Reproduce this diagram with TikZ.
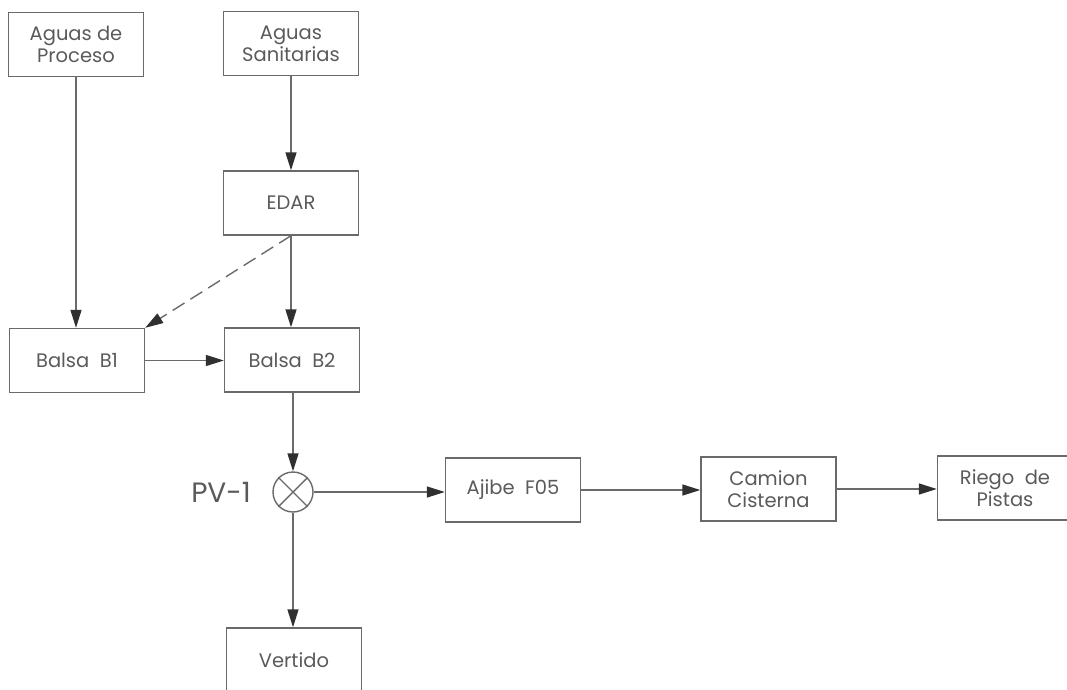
\documentclass[tikz,border=0pt]{standalone}
\usepackage{fontspec}
\setmainfont{Poppins}
\usetikzlibrary{arrows.meta}
\definecolor{linegray}{HTML}{6A6A6A}
\definecolor{textgray}{HTML}{5A5A5A}
\definecolor{tipgray}{HTML}{303030}
\tikzset{
  box/.style={draw=linegray, line width=1.4pt, minimum width=135pt, minimum height=64pt,
    inner sep=0pt, align=center, text=textgray, font=\fontsize{19.5}{22}\selectfont},
  flow/.style={draw=linegray, line width=1.4pt, -{Triangle[length=18pt,width=11pt,color=tipgray]}},
  dflow/.style={flow, dash pattern=on 14pt off 7pt},
  valve/.style={draw=linegray, line width=1.4pt, circle, minimum size=40pt, inner sep=0pt},
  tag/.style={text=textgray, font=\fontsize{28}{30}\selectfont, inner sep=0pt}
}
\begin{document}
\begin{tikzpicture}[x=1pt, y=-1pt]
\useasboundingbox (0,0) rectangle (1067,689);
\node[box] (ap) at (76,44.5) {Aguas de\\Proceso};
\node[box] (as) at (291,43.5) {Aguas\\Sanitarias};
\node[box] (edar) at (291,203) {EDAR};
\node[box] (b1) at (77,360.5) {Balsa\ \ B1};
\node[box] (b2) at (292,360) {Balsa\ \ B2};
\node[valve] (pv) at (293,492) {};
\draw[linegray, line width=1.4pt] (pv.north west) -- (pv.south east) (pv.north east) -- (pv.south west);
\node[tag, anchor=east] (pvl) at (251,492) {PV-1};
\node[box] (aj) at (513,490) {Ajibe\ \ F05};
\node[box] (cc) at (768.5,489) {Camion\\Cisterna};
\node[box] (rp) at (1005,488) {Riego\ \ de\\Pistas};
\node[box] (ve) at (294,660) {Vertido};

\draw[flow] (ap.south) -- (b1.north -| ap.south);
\draw[flow] (as.south) -- (edar.north);
\draw[flow] (edar.south) -- (b2.north -| edar.south);
\draw[dflow] (edar.south) -- (b1.north east);
\draw[flow] (b1.east) -- (b2.west |- b1.east);
\draw[flow] (b2.south -| pv.north) -- (pv.north);
\draw[flow] (pv.east) -- (aj.west |- pv.east);
\draw[flow] (aj.east) -- (cc.west |- aj.east);
\draw[flow] (cc.east) -- (rp.west |- cc.east);
\draw[flow] (pv.south) -- (ve.north -| pv.south);
\end{tikzpicture}
\end{document}
